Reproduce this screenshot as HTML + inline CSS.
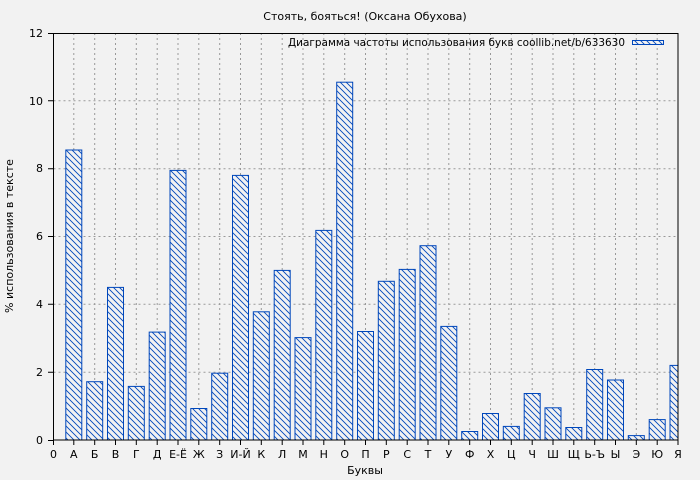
<!DOCTYPE html><html><head><meta charset="utf-8"><style>body{margin:0;background:#f2f2f2}svg{display:block;font-family:"DejaVu Sans","Liberation Sans",sans-serif}</style></head><body>
<svg width="700" height="480" xmlns="http://www.w3.org/2000/svg">
<defs><pattern id="h" width="6" height="6" patternUnits="userSpaceOnUse"><rect width="6" height="6" fill="#f2f2f2"/><path d="M-1,-1 L7,7 M-1,5 L1,7 M5,-1 L7,1" stroke="#0047bb" stroke-width="0.9"/></pattern>
<clipPath id="c"><rect x="53" y="33" width="625" height="407"/></clipPath></defs>
<rect width="700" height="480" fill="#f2f2f2"/>
<g stroke="#999" stroke-dasharray="2,3" stroke-width="1">
<path d="M53.5,372.2H678M53.5,304.3H678M53.5,236.5H678M53.5,168.7H678M53.5,100.8H678"/>
<path d="M73.8,33V440M94.7,33V440M115.5,33V440M136.3,33V440M157.2,33V440M178,33V440M198.8,33V440M219.7,33V440M240.5,33V440M261.3,33V440M282.2,33V440M303,33V440M323.8,33V440M344.7,33V440M365.5,33V440M386.3,33V440M407.2,33V440M428,33V440M448.8,33V440M469.7,33V440M490.5,33V440M511.3,33V440M532.2,33V440M553,33V440M573.8,33V440M594.7,33V440M615.5,33V440M636.3,33V440M657.2,33V440"/>
</g>
<g fill="url(#h)" stroke="#0047bb" stroke-width="1" clip-path="url(#c)">
<rect x="65.8" y="150" width="16" height="290"/>
<rect x="86.7" y="381.7" width="16" height="58.3"/>
<rect x="107.5" y="287.4" width="16" height="152.6"/>
<rect x="128.3" y="386.4" width="16" height="53.6"/>
<rect x="149.2" y="332.1" width="16" height="107.9"/>
<rect x="170" y="170.4" width="16" height="269.6"/>
<rect x="190.8" y="408.5" width="16" height="31.5"/>
<rect x="211.7" y="373.2" width="16" height="66.8"/>
<rect x="232.5" y="175.4" width="16" height="264.6"/>
<rect x="253.3" y="311.8" width="16" height="128.2"/>
<rect x="274.2" y="270.4" width="16" height="169.6"/>
<rect x="295" y="337.6" width="16" height="102.4"/>
<rect x="315.8" y="230.4" width="16" height="209.6"/>
<rect x="336.7" y="82.2" width="16" height="357.8"/>
<rect x="357.5" y="331.5" width="16" height="108.5"/>
<rect x="378.3" y="281.3" width="16" height="158.7"/>
<rect x="399.2" y="269.4" width="16" height="170.6"/>
<rect x="420" y="245.7" width="16" height="194.3"/>
<rect x="440.8" y="326.4" width="16" height="113.6"/>
<rect x="461.7" y="431.5" width="16" height="8.5"/>
<rect x="482.5" y="413.5" width="16" height="26.5"/>
<rect x="503.3" y="426.4" width="16" height="13.6"/>
<rect x="524.2" y="393.5" width="16" height="46.5"/>
<rect x="545" y="407.8" width="16" height="32.2"/>
<rect x="565.8" y="427.5" width="16" height="12.5"/>
<rect x="586.7" y="369.5" width="16" height="70.5"/>
<rect x="607.5" y="380" width="16" height="60"/>
<rect x="628.3" y="435.6" width="16" height="4.4"/>
<rect x="649.2" y="419.6" width="16" height="20.4"/>
<rect x="670" y="365.4" width="16" height="74.6"/>
</g>
<rect x="53.5" y="33.5" width="624.5" height="406.5" fill="none" stroke="#000" stroke-width="1"/>
<g stroke="#000"><path d="M48,440.5H53M48,372.2H53M48,304.3H53M48,236.5H53M48,168.7H53M48,100.8H53M48,33.5H53"/>
<path d="M53.5,440V445M73.8,440V445M94.7,440V445M115.5,440V445M136.3,440V445M157.2,440V445M178,440V445M198.8,440V445M219.7,440V445M240.5,440V445M261.3,440V445M282.2,440V445M303,440V445M323.8,440V445M344.7,440V445M365.5,440V445M386.3,440V445M407.2,440V445M428,440V445M448.8,440V445M469.7,440V445M490.5,440V445M511.3,440V445M532.2,440V445M553,440V445M573.8,440V445M594.7,440V445M615.5,440V445M636.3,440V445M657.2,440V445M678,440V445"/></g>
<g font-size="11" fill="#000" text-anchor="end"><text x="43" y="444">0</text><text x="43" y="376">2</text><text x="43" y="308">4</text><text x="43" y="240">6</text><text x="43" y="172">8</text><text x="43" y="105">10</text><text x="43" y="37">12</text></g>
<g font-size="11" fill="#000" text-anchor="middle">
<text x="53.5" y="458">0</text><text x="73.8" y="458">А</text><text x="94.7" y="458">Б</text><text x="115.5" y="458">В</text><text x="136.3" y="458">Г</text><text x="157.2" y="458">Д</text><text x="178" y="458">Е-Ё</text><text x="198.8" y="458">Ж</text><text x="219.7" y="458">З</text><text x="240.5" y="458">И-Й</text><text x="261.3" y="458">К</text><text x="282.2" y="458">Л</text><text x="303" y="458">М</text><text x="323.8" y="458">Н</text><text x="344.7" y="458">О</text><text x="365.5" y="458">П</text><text x="386.3" y="458">Р</text><text x="407.2" y="458">С</text><text x="428" y="458">Т</text><text x="448.8" y="458">У</text><text x="469.7" y="458">Ф</text><text x="490.5" y="458">Х</text><text x="511.3" y="458">Ц</text><text x="532.2" y="458">Ч</text><text x="553" y="458">Ш</text><text x="573.8" y="458">Щ</text><text x="594.7" y="458">Ь-Ъ</text><text x="615.5" y="458">Ы</text><text x="636.3" y="458">Э</text><text x="657.2" y="458">Ю</text><text x="678" y="458">Я</text>
<text x="365" y="474">Буквы</text>
<text x="365" y="20">Стоять, бояться! (Оксана Обухова)</text>
<text transform="translate(13,236) rotate(-90)">% использования в тексте</text>
</g>
<text x="288" y="46" font-size="11" fill="#000" textLength="337" lengthAdjust="spacingAndGlyphs">Диаграмма частоты использования букв coollib.net/b/633630</text>
<rect x="632.5" y="40.5" width="31" height="4" fill="url(#h)" stroke="#0047bb"/>
</svg></body></html>
